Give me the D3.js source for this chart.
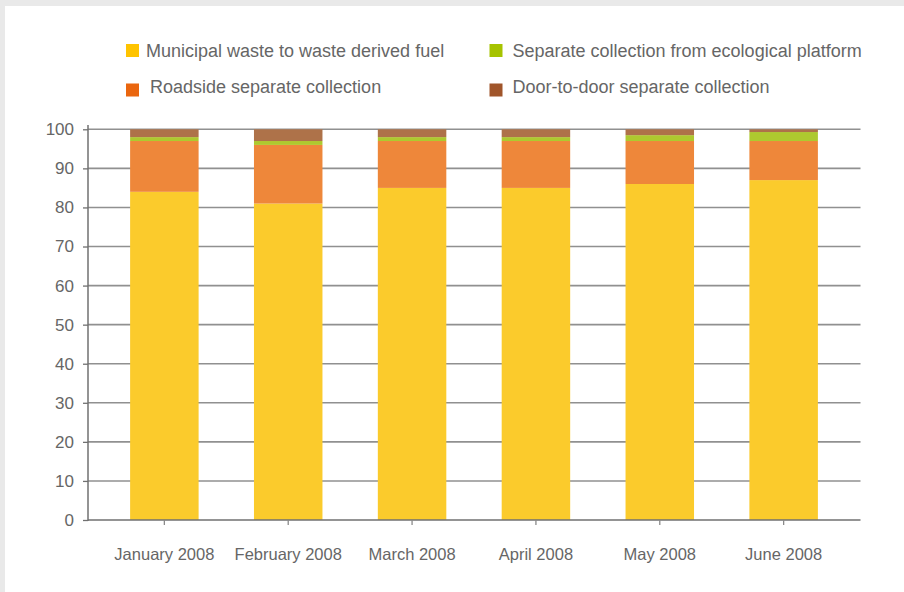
<!DOCTYPE html>
<html>
<head>
<meta charset="utf-8">
<script src="https://cdn.jsdelivr.net/npm/d3@7"></script>
<style>
  html, body { margin: 0; padding: 0; background: #e9e9e9; }
  svg { display: block; }
  text { font-family: "Liberation Sans", Arial, sans-serif; }
</style>
</head>
<body>
<svg id="chart" width="904" height="592"></svg>
<script>
const categories = ["January 2008", "February 2008", "March 2008", "April 2008", "May 2008", "June 2008"];
const seriesNames = ["Municipal waste to waste derived fuel", "Roadside separate collection",
                     "Separate collection from ecological platform", "Door-to-door separate collection"];
const municipalWaste = [84, 81, 85, 85, 86, 87];
const roadside       = [13, 15, 12, 12, 11, 10];
const ecoPlatform    = [1, 1, 1, 1, 1.5, 2.3];
const doorToDoor     = [2, 3, 2, 2, 1.5, 0.7];
const yTicks = [0, 10, 20, 30, 40, 50, 60, 70, 80, 90, 100];

const barColors = ["#fbcb2c", "#ee873a", "#aec92f", "#ae7249"];
const legendColors = ["#ffc400", "#ea660f", "#a6c300", "#a0552a"];

const svg = d3.select("#chart");

// white panel
svg.append("rect").attr("x", 5).attr("y", 6).attr("width", 904).attr("height", 600)
  .attr("fill", "#ffffff");

const rows = categories.map((c, i) => ({
  cat: c, s0: municipalWaste[i], s1: roadside[i], s2: ecoPlatform[i], s3: doorToDoor[i]
}));
const stack = d3.stack().keys(["s0", "s1", "s2", "s3"]);
const layers = stack(rows);

const x = d3.scaleBand().domain(categories).range([88, 860]).paddingInner(0.447).paddingOuter(0.34);
const y = d3.scaleLinear().domain([0, 100]).range([520, 129.3]);

// gridlines
svg.append("g").selectAll("line").data(yTicks.filter(d => d > 0)).join("line")
  .attr("x1", 88).attr("x2", 860.5)
  .attr("y1", d => y(d)).attr("y2", d => y(d))
  .attr("stroke", "#909090").attr("stroke-width", 1.6);

// bars
svg.append("g").selectAll("g").data(layers).join("g")
  .attr("fill", (d, i) => barColors[i])
  .selectAll("rect").data(d => d).join("rect")
  .attr("x", d => x(d.data.cat))
  .attr("width", x.bandwidth())
  .attr("y", d => y(d[1]))
  .attr("height", d => y(d[0]) - y(d[1]));

// y axis
const yAxis = svg.append("g").attr("transform", "translate(88,0)")
  .call(d3.axisLeft(y).tickValues(yTicks).tickSize(5).tickSizeOuter(0).tickPadding(9));
yAxis.select(".domain").attr("d", "M0,125V521").attr("stroke", "#707070").attr("stroke-width", 1.5);
yAxis.selectAll(".tick line").attr("stroke", "#707070").attr("stroke-width", 1.3);
yAxis.selectAll(".tick text").attr("font-size", 17).attr("fill", "#666")
  .attr("font-family", "Liberation Sans, Arial, sans-serif");

// x axis
const xAxis = svg.append("g").attr("transform", "translate(0,520)")
  .call(d3.axisBottom(x).tickSize(5).tickSizeOuter(0).tickPadding(23));
xAxis.select(".domain").attr("d", "M88,0H860.5").attr("stroke", "#707070").attr("stroke-width", 1.6);
xAxis.selectAll(".tick line").attr("stroke", "#8a8a8a").attr("stroke-width", 1.3);
xAxis.selectAll(".tick text").attr("font-size", 16.5).attr("fill", "#666")
  .attr("font-family", "Liberation Sans, Arial, sans-serif");

// legend
const legendPos = [
  {x: 126, y: 44, tx: 146, ty: 57},
  {x: 126, y: 83.5, tx: 150, ty: 93.3},
  {x: 489.5, y: 44, tx: 512.5, ty: 57},
  {x: 489.5, y: 83.5, tx: 512.5, ty: 93.3}
];
const lg = svg.append("g");
seriesNames.forEach((name, i) => {
  const p = legendPos[i];
  lg.append("rect").attr("x", p.x).attr("y", p.y).attr("width", 13).attr("height", 13)
    .attr("fill", legendColors[i]);
  lg.append("text").attr("x", p.tx).attr("y", p.ty).attr("font-size", 18)
    .attr("fill", "#666").text(name);
});
</script>
</body>
</html>
